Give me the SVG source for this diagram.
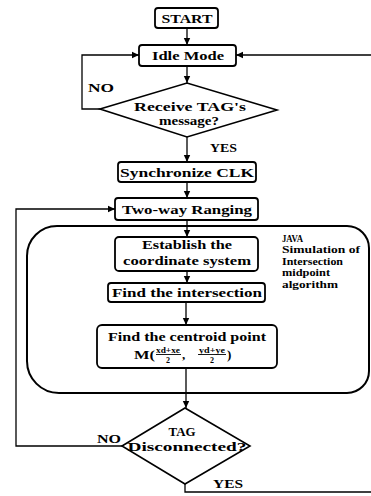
<svg xmlns="http://www.w3.org/2000/svg" width="371" height="496" viewBox="0 0 371 496">
<style>
.box{fill:#fff;stroke:#000;stroke-width:1.8}
.dia{fill:#fff;stroke:#000;stroke-width:1.6}
.c{fill:none;stroke:#000;stroke-width:1.3}
.t{font-family:"Liberation Serif","Times New Roman",serif;font-weight:bold;font-size:13px;fill:#000;text-anchor:middle}
.l{font-family:"Liberation Serif","Times New Roman",serif;font-weight:bold;font-size:13px;fill:#000}
.s{font-family:"Liberation Serif","Times New Roman",serif;font-weight:bold;font-size:10px;fill:#000}
.f{font-family:"Liberation Serif","Times New Roman",serif;font-weight:bold;font-size:8px;fill:#000;text-anchor:middle}
</style>
<defs>
<marker id="ah" markerUnits="userSpaceOnUse" markerWidth="8" markerHeight="8" refX="7" refY="4" orient="auto">
<path d="M0,0.8 L7,4 L0,7.2 Z" fill="#000"/>
</marker>
</defs>
<rect width="371" height="496" fill="#fff"/>

<g id="group-java">
<path d="M57,226 H347 A22,22 0 0 1 369,248 V371 A22,22 0 0 1 347,393 H59 A32,32 0 0 1 27,361 V256 A30,30 0 0 1 57,226 Z" fill="none" stroke="#000" stroke-width="2"/>
<text class="s" x="282" y="242" textLength="21" lengthAdjust="spacingAndGlyphs">JAVA</text>
<text class="s" x="282" y="253" textLength="78" lengthAdjust="spacingAndGlyphs">Simulation of</text>
<text class="s" x="282" y="265" textLength="61" lengthAdjust="spacingAndGlyphs">Intersection</text>
<text class="s" x="282" y="276" textLength="48" lengthAdjust="spacingAndGlyphs">midpoint</text>
<text class="s" x="282" y="288" textLength="56" lengthAdjust="spacingAndGlyphs">algorithm</text>
</g>

<g id="connectors">
<line class="c" x1="187" y1="28" x2="187" y2="45" marker-end="url(#ah)"/>
<line class="c" x1="187" y1="66" x2="187" y2="83" marker-end="url(#ah)"/>
<polyline class="c" points="100,109 82,109 82,55 139,55" marker-end="url(#ah)"/>
<line class="c" x1="371" y1="55" x2="236" y2="55" marker-end="url(#ah)"/>
<line class="c" x1="187" y1="137" x2="187" y2="162" marker-end="url(#ah)"/>
<line class="c" x1="187" y1="182" x2="187" y2="198" marker-end="url(#ah)"/>
<line class="c" x1="187" y1="220" x2="187" y2="237" marker-end="url(#ah)"/>
<line class="c" x1="187" y1="271" x2="187" y2="283" marker-end="url(#ah)"/>
<line class="c" x1="186" y1="302" x2="186" y2="325" marker-end="url(#ah)"/>
<line class="c" x1="186" y1="368" x2="186" y2="408" marker-end="url(#ah)"/>
<polyline class="c" points="122,446 16,446 16,209 115,209" marker-end="url(#ah)"/>
<polyline class="c" points="185,484 185,492 371,492"/>
<text class="l" x="88" y="92" textLength="26" lengthAdjust="spacingAndGlyphs">NO</text>
<text class="l" x="210" y="152" textLength="27" lengthAdjust="spacingAndGlyphs">YES</text>
<text class="l" x="97" y="443" textLength="24" lengthAdjust="spacingAndGlyphs">NO</text>
<text class="l" x="213" y="488" textLength="30" lengthAdjust="spacingAndGlyphs">YES</text>
</g>

<g id="start">
<rect class="box" x="155" y="8" width="63" height="20" rx="3"/>
<text class="t" x="187" y="22.5" textLength="51" lengthAdjust="spacingAndGlyphs">START</text>
</g>

<g id="idle-mode">
<rect class="box" x="139" y="45" width="97" height="21" rx="3"/>
<text class="t" x="188" y="60" textLength="72" lengthAdjust="spacingAndGlyphs">Idle Mode</text>
</g>

<g id="receive-msg">
<polygon class="dia" points="100,109 187,83 277,110 187,137"/>
<text class="t" x="190" y="111" textLength="112" lengthAdjust="spacingAndGlyphs">Receive TAG's</text>
<text class="t" x="189" y="125" textLength="60" lengthAdjust="spacingAndGlyphs">message?</text>
</g>

<g id="sync-clk">
<rect class="box" x="118" y="162" width="138" height="20" rx="3"/>
<text class="t" x="187" y="176.5" textLength="134" lengthAdjust="spacingAndGlyphs">Synchronize CLK</text>
</g>

<g id="two-way">
<rect class="box" x="115" y="198" width="143" height="22" rx="3"/>
<text class="t" x="187" y="213.5" textLength="130" lengthAdjust="spacingAndGlyphs">Two-way Ranging</text>
</g>

<g id="establish">
<rect class="box" x="115" y="237" width="143" height="34" rx="4"/>
<text class="t" x="187" y="249" textLength="90" lengthAdjust="spacingAndGlyphs">Establish the</text>
<text class="t" x="187" y="264.5" textLength="128" lengthAdjust="spacingAndGlyphs">coordinate system</text>
</g>

<g id="find-intersection">
<rect class="box" x="108" y="283" width="157" height="19" rx="3"/>
<text class="t" x="187" y="297" textLength="150" lengthAdjust="spacingAndGlyphs">Find the intersection</text>
</g>

<g id="centroid">
<rect class="box" x="97" y="325" width="180" height="43" rx="5"/>
<text class="t" x="187" y="341" textLength="158" lengthAdjust="spacingAndGlyphs">Find the centroid point</text>
<text class="l" x="134" y="359" textLength="21" lengthAdjust="spacingAndGlyphs">M(</text>
<text class="f" x="168" y="352.5" textLength="24" lengthAdjust="spacingAndGlyphs">xd+xe</text>
<line x1="156" y1="354.5" x2="181" y2="354.5" stroke="#000" stroke-width="0.9"/>
<text class="f" x="168" y="363">2</text>
<text class="l" x="182" y="359">,</text>
<text class="f" x="212" y="352.5" textLength="26" lengthAdjust="spacingAndGlyphs">yd+ye</text>
<line x1="198" y1="354.5" x2="226" y2="354.5" stroke="#000" stroke-width="0.9"/>
<text class="f" x="212" y="363">2</text>
<text class="l" x="227" y="359">)</text>
</g>

<g id="tag-disconnected">
<polygon class="dia" points="122,446 185,408 250,446 185,484"/>
<text class="t" x="182" y="436" textLength="27" lengthAdjust="spacingAndGlyphs">TAG</text>
<text class="t" x="187" y="451" textLength="119" lengthAdjust="spacingAndGlyphs">Disconnected?</text>
</g>
</svg>
